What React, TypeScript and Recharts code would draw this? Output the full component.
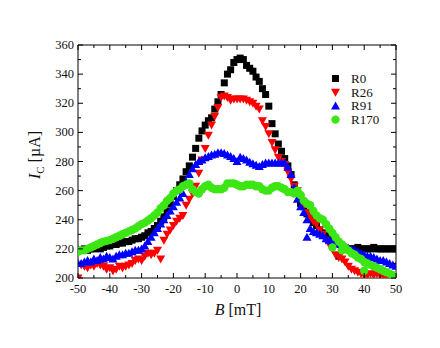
import { Legend, Scatter, ScatterChart, XAxis, YAxis } from 'recharts';

// field sweep, mT
const B_VALUES = [
  -50, -49, -48, -47, -46, -45, -44, -43, -42, -41,
  -40, -39, -38, -37, -36, -35, -34, -33, -32, -31,
  -30, -29, -28, -27, -26, -25, -24, -23, -22, -21,
  -20, -19, -18, -17, -16, -15, -14, -13, -12, -11,
  -10, -9, -8, -7, -6, -5, -4, -3, -2, -1,
  0,
  1, 2, 3, 4, 5, 6, 7, 8, 9, 10,
  11, 12, 13, 14, 15, 16, 17, 18, 19, 20,
  21, 22, 23, 24, 25, 26, 27, 28, 29, 30,
  31, 32, 33, 34, 35, 36, 37, 38, 39, 40,
  41, 42, 43, 44, 45, 46, 47, 48, 49, 50,
];

// critical current, µA
const R0 = [
  219, 219, 220, 219, 220, 220, 221, 220, 221, 222,
  222, 223, 223, 224, 224, 225, 225, 226, 227, 227,
  228, 229, 231, 232, 234, 236, 239, 242, 246, 251,
  256, 260, 264, 268, 273, 277, 283, 289, 296, 301,
  305, 308, 310, 316, 321, 326, 334, 340, 343, 348,
  350,
  351, 350, 346, 344, 342, 338, 335, 330, 326, 318,
  306, 299, 292, 287, 282, 277, 271, 264, 258, 251,
  249, 244, 241, 238, 236, 233, 231, 229, 228, 227,
  225, 215, 222, 221, 220, 220, 220, 221, 220, 220,
  220, 220, 221, 220, 220, 220, 220, 220, 220, 220,
];

const R26 = [
  200, 209, 208, 207, 209, 208, 210, 209, 208, 206,
  207, 205, 206, 208, 207, 208, 209, 210, 212, 213,
  212, 215, 217, 216, 217, 219, 213, 226, 230, 233,
  236, 239, 241, 243, 250, 254, 258, 263, 272, 281,
  289, 298, 305, 311, 317, 324, 325, 324, 322, 323,
  323,
  323, 323, 322, 321, 320, 318, 316, 308, 304, 299,
  293, 288, 283, 280, 278, 273, 268, 263, 260, 255,
  250, 245, 242, 239, 237, 233, 230, 226, 223, 220,
  216, 214, 213, 211, 208, 206, 205, 204, 203, 202,
  202, 203, 202, 203, 202, 202, 201, 202, 201, 201,
];

const R91 = [
  210, 210, 211, 212, 211, 213, 212, 214, 213, 215,
  214, 213, 215, 216, 216, 217, 217, 218, 219, 219,
  220, 222, 225, 228, 231, 234, 237, 240, 243, 246,
  249, 252, 255, 258, 266, 271, 275, 278, 280, 281,
  282.5, 283.5, 284.5, 285, 286, 286, 285.5, 284.5, 283.5, 282,
  280,
  283, 282, 281, 279.5, 278.5, 277.5, 276.5, 278, 279, 279,
  279, 279, 279, 279, 279, 276, 271, 262, 254, 249,
  245, 240, 234, 232, 231, 230, 229, 227, 226, 225,
  224, 223, 222, 221, 220, 219.5, 219, 218, 217, 216,
  215, 215, 214, 213, 212, 212, 211, 210, 209, 208,
];

const R170 = [
  218, 219, 219, 220, 221, 222, 223, 224, 225, 225.5,
  226, 227, 228, 229, 230, 231, 232, 233, 234, 235.5,
  237, 238, 239.5, 241, 243, 245, 248, 250, 253, 255,
  258, 260, 261, 263, 264, 265, 261, 259, 258, 261,
  263, 264, 262, 261, 261, 261, 262, 265, 265, 265,
  264,
  263, 263, 264, 264, 264, 263, 263, 261, 260, 260,
  262, 263, 263, 262, 261, 259, 259, 258, 260, 257,
  253, 251, 250, 246, 243, 241, 240, 237, 234, 231,
  228, 225, 223, 221, 219, 217, 216, 214, 213, 211,
  210, 209, 208, 207, 206, 205, 204, 203, 202, 201,
];

// stray points off the main sweep
const R91_EXTRA_B = [22];
const R91_EXTRA_I = [228];
const R170_EXTRA_B = [30, 33, 40];
const R170_EXTRA_I = [221, 219, 205];

const X_TICKS = [-50, -45, -40, -35, -30, -25, -20, -15, -10, -5, 0, 5, 10, 15, 20, 25, 30, 35, 40, 45, 50];
const Y_TICKS = [200, 210, 220, 230, 240, 250, 260, 270, 280, 290, 300, 310, 320, 330, 340, 350, 360];

const SERIES_NAMES = ['R0', 'R26', 'R91', 'R170'];

const FONT = "'Liberation Serif', 'Times New Roman', serif";
const GREEN = '#3ce614';

function toPoints(vals: number[], extraB: number[] = [], extraI: number[] = []) {
  const pts = B_VALUES.map((b, k) => ({ b, i: vals[k] }));
  extraB.forEach((b, k) => pts.push({ b, i: extraI[k] }));
  return pts;
}

const r0Data = toPoints(R0);
const r26Data = toPoints(R26);
const r91Data = toPoints(R91, R91_EXTRA_B, R91_EXTRA_I);
const r170Data = toPoints(R170, R170_EXTRA_B, R170_EXTRA_I);

const square = (p: any) => <rect x={p.cx - 3.5} y={p.cy - 3.5} width={7} height={7} fill="#000" />;
const triDown = (p: any) => (
  <polygon points={`${p.cx - 4.5},${p.cy - 3.5} ${p.cx + 4.5},${p.cy - 3.5} ${p.cx},${p.cy + 4.5}`} fill="#ff0000" />
);
const triUp = (p: any) => (
  <polygon points={`${p.cx - 4.5},${p.cy + 3.5} ${p.cx + 4.5},${p.cy + 3.5} ${p.cx},${p.cy - 4.5}`} fill="#0000ff" />
);
const dot = (p: any) => <circle cx={p.cx} cy={p.cy} r={4.2} fill={GREEN} />;

const serif = { fontFamily: FONT };

function BottomTick({ x, y, payload }: any) {
  const major = payload.value % 10 === 0;
  return (
    <g>
      <line x1={x} x2={x} y1={y} y2={y - (major ? 5 : 3)} stroke="#000" />
      {major && (
        <text x={x} y={y + 15} textAnchor="middle" fontSize={12.5} fill="#111" style={serif}>
          {payload.value}
        </text>
      )}
    </g>
  );
}

function TopTick({ x, y, payload }: any) {
  const major = payload.value % 10 === 0;
  return <line x1={x} x2={x} y1={y} y2={y + (major ? 5 : 3)} stroke="#000" />;
}

function LeftTick({ x, y, payload }: any) {
  const major = payload.value % 20 === 0;
  return (
    <g>
      <line x1={x} x2={x + (major ? 5 : 3)} y1={y} y2={y} stroke="#000" />
      {major && (
        <text x={x - 4} y={y + 4} textAnchor="end" fontSize={12.5} fill="#111" style={serif}>
          {payload.value}
        </text>
      )}
    </g>
  );
}

function RightTick({ x, y, payload }: any) {
  const major = payload.value % 20 === 0;
  return <line x1={x} x2={x - (major ? 5 : 3)} y1={y} y2={y} stroke="#000" />;
}

const xLabel = () => (
  <text x={238} y={315} textAnchor="middle" fontSize={16} fill="#111" style={serif}>
    <tspan fontStyle="italic">B</tspan> [mT]
  </text>
);

const yLabel = () => (
  <text transform="translate(40,155) rotate(-90)" textAnchor="middle" fontSize={16} fill="#111" style={serif}>
    <tspan fontStyle="italic">I</tspan>
    <tspan fontSize={11} dy={4}>C</tspan>
    <tspan dy={-4}> [µA]</tspan>
  </text>
);

const legendShapes = [square, triDown, triUp, dot];

function renderLegend() {
  return (
    <svg width={80} height={60} style={{ display: 'block' }}>
      {SERIES_NAMES.map((name, k) => {
        const cy = 8.5 + k * 13.7;
        return (
          <g key={name}>
            {legendShapes[k]({ cx: 10.5, cy })}
            <text x={26} y={cy + 4.5} fontSize={13} fill="#111" style={serif}>
              {name}
            </text>
          </g>
        );
      })}
    </svg>
  );
}

export default function App() {
  return (
    <div style={{ position: 'absolute', left: 0, top: 0, width: 440, height: 348, background: '#fff' }}>
      <ScatterChart width={440} height={348} margin={{ top: 44, right: 43, bottom: 40, left: 38 }}>
        <XAxis
          xAxisId="b"
          type="number"
          dataKey="b"
          domain={[-50, 50]}
          ticks={X_TICKS}
          interval={0}
          allowDataOverflow
          height={30}
          tickSize={0}
          tickMargin={0}
          tickLine={false}
          axisLine={{ stroke: '#000' }}
          tick={<BottomTick />}
          label={xLabel}
        />
        <XAxis
          xAxisId="t"
          orientation="top"
          type="number"
          dataKey="b"
          domain={[-50, 50]}
          ticks={X_TICKS}
          interval={0}
          allowDataOverflow
          height={1}
          tickSize={0}
          tickMargin={0}
          tickLine={false}
          axisLine={{ stroke: '#000' }}
          tick={<TopTick />}
        />
        <YAxis
          yAxisId="l"
          type="number"
          dataKey="i"
          domain={[200, 360]}
          ticks={Y_TICKS}
          interval={0}
          allowDataOverflow
          width={40}
          tickSize={0}
          tickMargin={0}
          tickLine={false}
          axisLine={{ stroke: '#000' }}
          tick={<LeftTick />}
          label={yLabel}
        />
        <YAxis
          yAxisId="r"
          orientation="right"
          type="number"
          dataKey="i"
          domain={[200, 360]}
          ticks={Y_TICKS}
          interval={0}
          allowDataOverflow
          width={1}
          tickSize={0}
          tickMargin={0}
          tickLine={false}
          axisLine={{ stroke: '#000' }}
          tick={<RightTick />}
        />
        <Legend
          layout="horizontal"
          verticalAlign="middle"
          align="center"
          content={renderLegend}
          wrapperStyle={{ position: 'absolute', left: 325, top: 70, width: 80, height: 60 }}
        />
        <Scatter name="R0" data={r0Data} xAxisId="b" yAxisId="l" shape={square} isAnimationActive={false} />
        <Scatter name="R26" data={r26Data} xAxisId="b" yAxisId="l" shape={triDown} isAnimationActive={false} />
        <Scatter name="R91" data={r91Data} xAxisId="b" yAxisId="l" shape={triUp} isAnimationActive={false} />
        <Scatter name="R170" data={r170Data} xAxisId="b" yAxisId="l" shape={dot} isAnimationActive={false} />
      </ScatterChart>
    </div>
  );
}
